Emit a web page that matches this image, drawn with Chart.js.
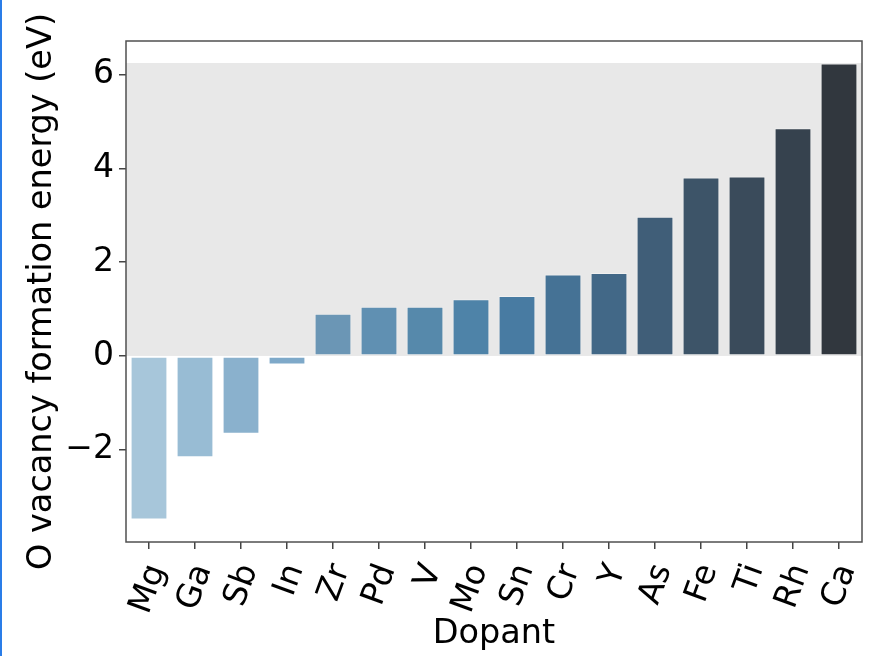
<!DOCTYPE html>
<html><head><meta charset="utf-8">
<script src="https://cdn.jsdelivr.net/npm/chart.js@4/dist/chart.umd.min.js"></script>
<style>
html,body{margin:0;padding:0;background:#fff;overflow:hidden}
#wrap{position:relative;width:872px;height:656px}
#edge{position:absolute;left:0;top:0;width:2px;height:656px;background:#2a7de8}
</style></head><body>
<div id="wrap"><canvas id="c" width="872" height="656"></canvas><div id="edge"></div></div>
<script>
const categories = ['Mg','Ga','Sb','In','Zr','Pd','V','Mo','Sn','Cr','Y','As','Fe','Ti','Rh','Ca'];
const values = [-3.49,-2.16,-1.66,-0.18,0.90,1.05,1.05,1.21,1.28,1.74,1.77,2.97,3.81,3.83,4.86,6.24];
const barColors = ['#a7c6da','#98bcd4','#8ab1cd','#7ea9c9','#6b96b5','#6090b2','#5689ab','#4e83a8',
                   '#487ba2','#457295','#426887','#405e78','#3d5468','#3a4b5b','#36424e','#31373e'];
const yTicks = [-2,0,2,4,6];
const yMin = -3.97, yMax = 6.72;
const bandBottom = 0, bandTop = 6.25;
const xTitle = 'Dopant';
const yTitle = 'O vacancy formation energy (eV)';
const FONT = 'DejaVu Sans';

const bandPlugin = {
  id: 'band',
  beforeDraw(chart) {
    const {ctx, chartArea: a, scales: {y}} = chart;
    const y0 = y.getPixelForValue(bandBottom), y1 = y.getPixelForValue(bandTop);
    ctx.save();
    ctx.fillStyle = '#e8e8e8';
    ctx.fillRect(a.left, y1, a.right - a.left, y0 - y1);
    ctx.restore();
  },
  afterDraw(chart) {
    const {ctx, chartArea: a} = chart;
    ctx.save();
    ctx.strokeStyle = '#505050';
    ctx.lineWidth = 1.5;
    ctx.strokeRect(a.left, a.top, a.right - a.left, a.bottom - a.top);
    ctx.restore();
  }
};

new Chart(document.getElementById('c'), {
  type: 'bar',
  data: {
    labels: categories,
    datasets: [{
      data: values,
      backgroundColor: barColors,
      borderColor: 'rgba(255,255,255,0.35)',
      borderWidth: 1,
      borderSkipped: false,
      categoryPercentage: 1.0,
      barPercentage: 0.8
    }]
  },
  options: {
    responsive: false,
    animation: false,
    devicePixelRatio: 1,
    layout: {padding: {top: 41, right: 10, left: 0, bottom: 0}},
    plugins: {legend: {display: false}, tooltip: {enabled: false}},
    scales: {
      x: {
        grid: {display: true, drawOnChartArea: false, offset: false, tickLength: 7, color: '#444', lineWidth: 1.5},
        border: {display: false},
        ticks: {autoSkip: false, minRotation: 70, maxRotation: 70, padding: 10, labelOffset: 8, color: '#000',
                font: {family: FONT, size: 33}},
        title: {display: true, text: xTitle, color: '#000', font: {family: FONT, size: 33.5},
                padding: {top: 0, bottom: 2}},
        afterFit(s) { s.height = 114; s.paddingLeft = 0; s.paddingRight = 0; }
      },
      y: {
        min: yMin, max: yMax,
        afterBuildTicks(s) { s.ticks = yTicks.map(v => ({value: v})); },
        grid: {display: true, drawOnChartArea: false, tickLength: 7, color: '#444', lineWidth: 1.5},
        border: {display: false},
        ticks: {padding: 5, color: '#000', font: {family: FONT, size: 33},
                callback: v => String(v).replace('-', '\u2212')},
        title: {display: true, text: yTitle, color: '#000', font: {family: FONT, size: 33.5},
                padding: {top: 22, bottom: 0}},
        afterFit(s) { s.width = 126; s.paddingTop = 0; s.paddingBottom = 0; }
      }
    }
  },
  plugins: [bandPlugin]
});
</script>
</body></html>
